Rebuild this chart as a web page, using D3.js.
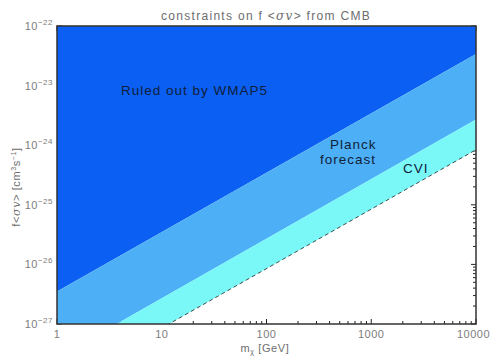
<!DOCTYPE html>
<html>
  <head>
    <meta charset="utf-8">
    <script src="https://d3js.org/d3.v7.min.js"></script>
    <style>
      body { margin: 0; background: #fff; }
      text { font-family: "Liberation Sans", sans-serif; }
      .tick-label { fill: #7d7d7d; font-size: 11px; letter-spacing: 0.5px; }
      .axis-label { fill: #6d6d6d; font-size: 11px; letter-spacing: 0.6px; }
      .title { fill: #6d6d6d; font-size: 12px; letter-spacing: 1.3px; }
      .note { fill: #10203a; font-size: 13.5px; letter-spacing: 1px; }
    </style>
  </head>
  <body>
    <svg width="491" height="356"></svg>
    <script>
      // axis ticks
      const massTicks = [1, 10, 100, 1000, 10000];
      const fTicks = [1e-22, 1e-23, 1e-24, 1e-25, 1e-26, 1e-27];

      // boundaries: f at the two ends of the mass range (straight lines in log-log)
      const boundaryMass = [1, 10000];
      const wmap5F = [3.5e-27, 3.4e-23];
      const planckF = [2.7e-28, 2.7e-24];
      const cviF = [8.6e-29, 8.4e-25];

      const svg = d3.select('svg');
      const margin = { left: 57, right: 15, top: 26, bottom: 32 };
      const width = +svg.attr('width');
      const height = +svg.attr('height');

      const x = d3.scaleLog().domain([1, 10000]).range([margin.left, width - margin.right]);
      const y = d3.scaleLog().domain([1e-27, 1e-22]).range([height - margin.bottom, margin.top]);
      const [x0, x1] = x.range();
      const [y0, y1] = y.range();   // y0 bottom, y1 top

      svg.append('defs').append('clipPath').attr('id', 'plot')
        .append('rect').attr('x', x0).attr('y', y1).attr('width', x1 - x0).attr('height', y0 - y1);

      // minor + major ticks on all four sides (fills cover some of them)
      const ticksG = svg.append('g').attr('stroke', '#222').attr('stroke-width', 1);
      const minorM = [];
      for (let d = 1; d < 10000; d *= 10) for (let k = 1; k < 10; k++) minorM.push(d * k);
      minorM.push(10000);
      minorM.forEach(m => {
        const len = massTicks.includes(m) ? 5 : 3;
        ticksG.append('line').attr('x1', x(m)).attr('x2', x(m)).attr('y1', y0).attr('y2', y0 - len);
        ticksG.append('line').attr('x1', x(m)).attr('x2', x(m)).attr('y1', y1).attr('y2', y1 + len);
      });
      const minorF = [];
      for (let e = -27; e < -22; e++) for (let k = 1; k < 10; k++) minorF.push(k * Math.pow(10, e));
      minorF.push(1e-22);
      minorF.forEach(f => {
        const len = (Math.abs(Math.log10(f) - Math.round(Math.log10(f))) < 1e-6) ? 5 : 3;
        ticksG.append('line').attr('y1', y(f)).attr('y2', y(f)).attr('x1', x1).attr('x2', x1 - len);
        ticksG.append('line').attr('y1', y(f)).attr('y2', y(f)).attr('x1', x0).attr('x2', x0 + len);
      });

      // fill regions
      const bandG = svg.append('g').attr('clip-path', 'url(#plot)');
      const lineAt = arr => boundaryMass.map((m, i) => [x(m), y(arr[i])]);
      const area = (upper, lower) => {
        const top = upper ? lineAt(upper) : [[x0, y1 - 5], [x1, y1 - 5]];
        const bot = lineAt(lower).reverse();
        return 'M' + top.concat(bot).map(p => p.join(',')).join('L') + 'Z';
      };
      bandG.append('path').attr('d', area(null, wmap5F)).attr('fill', '#0b5ff2');
      bandG.append('path').attr('d', area(wmap5F, planckF)).attr('fill', '#4db0f6');
      bandG.append('path').attr('d', area(planckF, cviF)).attr('fill', '#7af8f8');
      bandG.append('path')
        .attr('d', d3.line()(lineAt(cviF)))
        .attr('fill', 'none').attr('stroke', '#222').attr('stroke-width', 0.8)
        .attr('stroke-dasharray', '4,3');

      // box
      svg.append('rect').attr('x', x0).attr('y', y1).attr('width', x1 - x0).attr('height', y0 - y1)
        .attr('fill', 'none').attr('stroke', '#333').attr('stroke-width', 1.5);

      // x tick labels (last one pushed in from the page edge)
      svg.append('g').selectAll('text').data(massTicks).join('text')
        .attr('class', 'tick-label')
        .attr('x', (d, i) => i === massTicks.length - 1 ? width - 1 : x(d)).attr('y', y0 + 14)
        .attr('text-anchor', (d, i) => i === massTicks.length - 1 ? 'end' : 'middle')
        .text(d => d);

      // y tick labels
      const yl = svg.append('g').selectAll('text').data(fTicks).join('text')
        .attr('class', 'tick-label')
        .attr('x', x0 - 4).attr('y', d => y(d) + 4)
        .attr('text-anchor', 'end');
      yl.append('tspan').text('10');
      yl.append('tspan').attr('dy', -5).attr('font-size', 8).text(d => '\u2212' + Math.round(-Math.log10(d)));

      // title
      const title = svg.append('text').attr('class', 'title')
        .attr('x', 266).attr('y', 20).attr('text-anchor', 'middle');
      title.append('tspan').text('constraints on f <');
      title.append('tspan').attr('font-style', 'italic').attr('font-family', 'DejaVu Serif').text('\u03c3v');
      title.append('tspan').text('> from CMB');

      // x label
      const xlab = svg.append('text').attr('class', 'axis-label')
        .attr('x', 265).attr('y', 352).attr('text-anchor', 'middle');
      xlab.append('tspan').text('m');
      xlab.append('tspan').attr('dy', 2).attr('font-size', 7).text('\u03c7');
      xlab.append('tspan').attr('dy', -2).text(' [GeV]');

      // y label
      const ylab = svg.append('text').attr('class', 'axis-label')
        .attr('transform', `translate(20, 187) rotate(-90)`).attr('text-anchor', 'middle');
      ylab.append('tspan').text('f<');
      ylab.append('tspan').attr('font-style', 'italic').attr('font-family', 'DejaVu Serif').text('\u03c3v');
      ylab.append('tspan').text('> [cm');
      ylab.append('tspan').attr('dy', -4).attr('font-size', 7).text('3');
      ylab.append('tspan').attr('dy', 4).text('s');
      ylab.append('tspan').attr('dy', -4).attr('font-size', 7).text('\u22121');
      ylab.append('tspan').attr('dy', 4).text(']');

      // region notes
      svg.append('text').attr('class', 'note').attr('x', 121).attr('y', 95).text('Ruled out by WMAP5');
      svg.append('text').attr('class', 'note').attr('x', 330).attr('y', 149).text('Planck');
      svg.append('text').attr('class', 'note').attr('x', 320).attr('y', 164).text('forecast');
      svg.append('text').attr('class', 'note').attr('x', 403).attr('y', 173).text('CVI');
    </script>
  </body>
</html>
